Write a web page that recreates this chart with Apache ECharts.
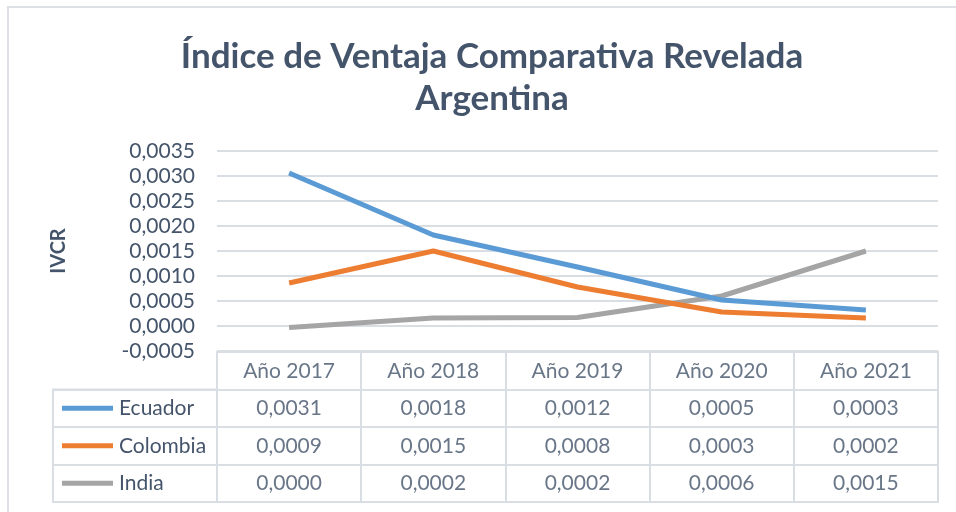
<!DOCTYPE html>
<html>
<head>
<meta charset="utf-8">
<script src="https://cdn.jsdelivr.net/npm/echarts@6/dist/echarts.min.js"></script>
<style>
  html, body { margin: 0; padding: 0; background: #fff; }
  #chart { width: 956px; height: 512px; }
</style>
</head>
<body>
<div id="chart"></div>
<script>
let years = ['Año 2017', 'Año 2018', 'Año 2019', 'Año 2020', 'Año 2021'];
let countries = ['Ecuador', 'Colombia', 'India'];
let ecuador = [0.00306, 0.00182, 0.00118, 0.00052, 0.00032];
let colombia = [0.00086, 0.0015, 0.00078, 0.00028, 0.00016];
let india = [-0.00003, 0.00016, 0.00017, 0.0006, 0.0015];
let yTicks = [-0.0005, 0, 0.0005, 0.001, 0.0015, 0.002, 0.0025, 0.003, 0.0035];

let colors = ['#5B9BD5', '#ED7D31', '#A5A5A5'];
let seriesValues = [ecuador, colombia, india];
let textColor = '#44546A';
let borderColor = '#D9DDE4';
let font = 'Lato';

function fmt(v) {
    let r = Math.round(v * 10000) / 10000 + 0;
    return r.toFixed(4).replace('.', ',');
}

// table cells: header row + one row per country
let tableRows = [''].concat(countries);
let cells = [];
for(let i = 0; i < years.length; i++) {
    cells.push({ value: [years[i], ''], label: { formatter: years[i] } });
    for(let c = 0; c < countries.length; c++) {
        cells.push({ value: [years[i], countries[c]], label: { formatter: fmt(seriesValues[c][i]) } });
    }
}

let lineSeries = countries.map(function (name, c) {
    return {
        name: name,
        type: 'line',
        xAxisIndex: 0,
        yAxisIndex: 0,
        data: seriesValues[c],
        symbol: 'none',
        lineStyle: { width: 5, color: colors[c], cap: 'butt' },
        itemStyle: { color: colors[c] },
        z: 3 + (2 - c)
    };
});

let chart = echarts.init(document.getElementById('chart'));
chart.setOption({
    animation: false,
    textStyle: { fontFamily: font },
    title: {
        text: 'Índice de Ventaja Comparativa Revelada\nArgentina',
        left: 487,
        top: 31,
        textAlign: 'center',
        textStyle: { fontFamily: font, fontWeight: 'bold', fontSize: 35, lineHeight: 42, color: textColor }
    },
    graphic: [{
        type: 'rect',
        shape: { x: 8, y: 7, width: 1000, height: 600 },
        style: { fill: 'none', stroke: '#DDE1E7', lineWidth: 2 },
        silent: true
    }],
    grid: [
        { left: 217, right: 18, top: 151, bottom: 161 },
        { left: 217, right: 18, top: 352, height: 150, show: true, borderColor: borderColor, borderWidth: 2 },
        { left: 53, width: 164, top: 389.5, height: 112.5, show: true, borderColor: borderColor, borderWidth: 2 }
    ],
    xAxis: [
        { gridIndex: 0, type: 'category', data: years, boundaryGap: true, axisLine: { show: false }, axisTick: { show: false }, axisLabel: { show: false } },
        { gridIndex: 1, type: 'category', data: years, boundaryGap: true, axisLine: { show: false }, axisTick: { show: false }, axisLabel: { show: false },
          splitLine: { show: true, lineStyle: { color: borderColor, width: 2 } } },
        { gridIndex: 2, type: 'value', show: false }
    ],
    yAxis: [
        { gridIndex: 0, type: 'value', min: -0.0005, max: 0.0035, interval: 0.0005,
          name: 'IVCR', nameLocation: 'middle', nameGap: 148,
          nameTextStyle: { fontFamily: font, fontWeight: 'bold', fontSize: 20, color: textColor },
          axisLine: { show: false }, axisTick: { show: false },
          axisLabel: { fontSize: 21, color: textColor, margin: 22, formatter: function (v) { return fmt(v); } },
          splitLine: { lineStyle: { color: borderColor, width: 2 } } },
        { gridIndex: 1, type: 'category', data: tableRows, inverse: true, axisLine: { show: false }, axisTick: { show: false }, axisLabel: { show: false },
          splitLine: { show: true, lineStyle: { color: borderColor, width: 2 } } },
        { gridIndex: 2, type: 'category', data: countries, inverse: true, axisLine: { show: false }, axisTick: { show: false },
          splitLine: { show: true, lineStyle: { color: borderColor, width: 2 } },
          axisLabel: {
              inside: true, margin: 9,
              formatter: function (v) { return '{s' + countries.indexOf(v) + '|}{t|' + v + '}'; },
              rich: {
                  s0: { backgroundColor: colors[0], width: 51, height: 5 },
                  s1: { backgroundColor: colors[1], width: 51, height: 5 },
                  s2: { backgroundColor: colors[2], width: 51, height: 5 },
                  t: { fontFamily: font, fontSize: 21, color: textColor, padding: [0, 0, 0, 6] }
              }
          } }
    ],
    series: lineSeries.concat([{
        type: 'scatter',
        xAxisIndex: 1,
        yAxisIndex: 1,
        symbolSize: 0,
        silent: true,
        data: cells,
        label: { show: true, position: 'inside', fontFamily: font, fontSize: 21, color: textColor }
    }])
});
</script>
</body>
</html>
